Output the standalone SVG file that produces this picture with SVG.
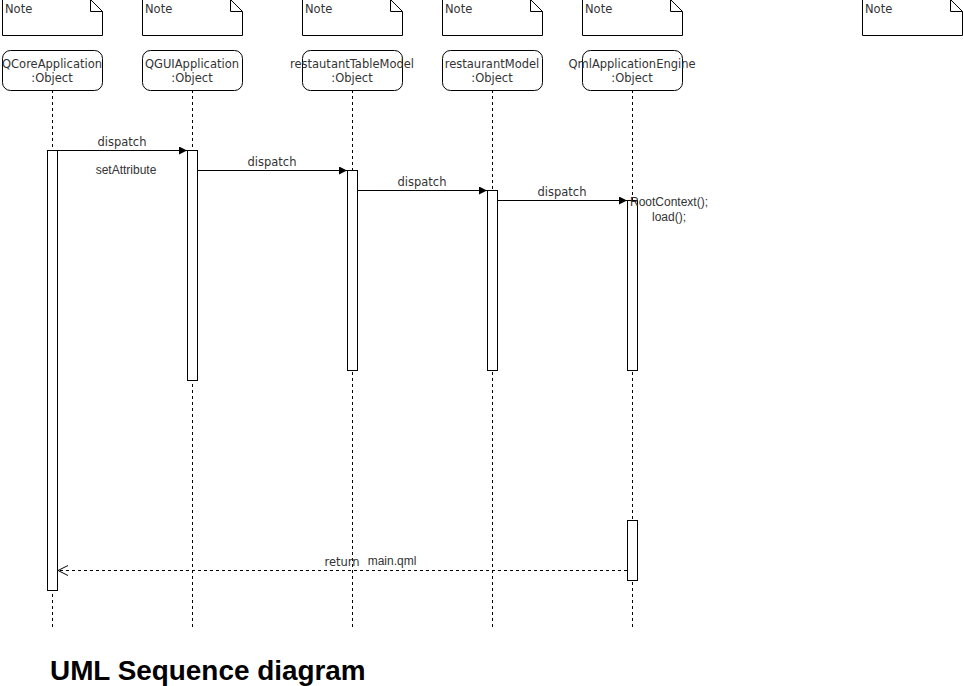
<svg xmlns="http://www.w3.org/2000/svg" width="963" height="686" viewBox="0 0 963 686">
  <style>
    .note { fill: #ffffff; stroke: #000000; stroke-width: 1; }
    .fold { fill: none; stroke: #000000; stroke-width: 1; }
    .lbl { font-family: "DejaVu Sans", sans-serif; font-size: 11.5px; fill: #333333; }
    .obj { fill: #ffffff; stroke: #000000; stroke-width: 1; }
    .life { stroke: #000000; stroke-width: 1; stroke-dasharray: 3 3; fill: none; }
    .act { fill: #ffffff; stroke: #000000; stroke-width: 1; }
    .msg { stroke: #000000; stroke-width: 1; fill: none; }
    .ret { stroke: #000000; stroke-width: 1; fill: none; stroke-dasharray: 3 3; }
    .small { font-family: "Liberation Sans", Arial, sans-serif; font-size: 12px; fill: #333333; }
    .title { font-family: "Liberation Sans", Arial, sans-serif; font-size: 27.9px; font-weight: bold; fill: #000000; }
  </style>
  <defs>
    <marker id="arrowFilled" markerWidth="10" markerHeight="10" refX="8" refY="4" orient="auto" markerUnits="userSpaceOnUse">
      <path d="M0,0 L8,4 L0,8 Z" fill="#000000"/>
    </marker>
    <marker id="arrowOpen" markerWidth="12" markerHeight="12" refX="10" refY="5" orient="auto" markerUnits="userSpaceOnUse">
      <path d="M0,0 L10,5 L0,10" fill="none" stroke="#000000" stroke-width="1"/>
    </marker>
  </defs>

  <!-- notes -->
  <g id="note1"><path class="note" d="M2.5,-0.5 H90.5 L102.5,11.5 V35.5 H2.5 Z"/><path class="fold" d="M90.5,-0.5 V11.5 H102.5"/><text class="lbl" x="5" y="13">Note</text></g>
  <g id="note2"><path class="note" d="M142.5,-0.5 H230.5 L242.5,11.5 V35.5 H142.5 Z"/><path class="fold" d="M230.5,-0.5 V11.5 H242.5"/><text class="lbl" x="145" y="13">Note</text></g>
  <g id="note3"><path class="note" d="M302.5,-0.5 H390.5 L402.5,11.5 V35.5 H302.5 Z"/><path class="fold" d="M390.5,-0.5 V11.5 H402.5"/><text class="lbl" x="305" y="13">Note</text></g>
  <g id="note4"><path class="note" d="M442.5,-0.5 H530.5 L542.5,11.5 V35.5 H442.5 Z"/><path class="fold" d="M530.5,-0.5 V11.5 H542.5"/><text class="lbl" x="445" y="13">Note</text></g>
  <g id="note5"><path class="note" d="M582.5,-0.5 H670.5 L682.5,11.5 V35.5 H582.5 Z"/><path class="fold" d="M670.5,-0.5 V11.5 H682.5"/><text class="lbl" x="585" y="13">Note</text></g>
  <g id="note6"><path class="note" d="M862.5,-0.5 H950.5 L962.5,11.5 V35.5 H862.5 Z"/><path class="fold" d="M950.5,-0.5 V11.5 H962.5"/><text class="lbl" x="865" y="13">Note</text></g>

  <!-- lifelines -->
  <g id="qcoreapplication">
    <path class="life" d="M52.5,90 V628"/>
    <rect class="obj" x="2.5" y="50.5" width="100" height="40" rx="8"/>
    <text class="lbl" text-anchor="middle" x="52" y="68">QCoreApplication</text>
    <text class="lbl" text-anchor="middle" x="52" y="82">:Object</text>
    <rect class="act" x="47.5" y="150.5" width="10" height="440"/>
  </g>
  <g id="qguiapplication">
    <path class="life" d="M192.5,90 V628"/>
    <rect class="obj" x="142.5" y="50.5" width="100" height="40" rx="8"/>
    <text class="lbl" text-anchor="middle" x="192" y="68">QGUIApplication</text>
    <text class="lbl" text-anchor="middle" x="192" y="82">:Object</text>
    <rect class="act" x="187.5" y="150.5" width="10" height="230"/>
  </g>
  <g id="restautanttablemodel">
    <path class="life" d="M352.5,90 V628"/>
    <rect class="obj" x="302.5" y="50.5" width="100" height="40" rx="8"/>
    <text class="lbl" text-anchor="middle" x="352" y="68">restautantTableModel</text>
    <text class="lbl" text-anchor="middle" x="352" y="82">:Object</text>
    <rect class="act" x="347.5" y="170.5" width="10" height="200"/>
  </g>
  <g id="restaurantmodel">
    <path class="life" d="M492.5,90 V628"/>
    <rect class="obj" x="442.5" y="50.5" width="100" height="40" rx="8"/>
    <text class="lbl" text-anchor="middle" x="492" y="68">restaurantModel</text>
    <text class="lbl" text-anchor="middle" x="492" y="82">:Object</text>
    <rect class="act" x="487.5" y="190.5" width="10" height="180"/>
  </g>
  <g id="qmlapplicationengine">
    <path class="life" d="M632.5,90 V628"/>
    <rect class="obj" x="582.5" y="50.5" width="100" height="40" rx="8"/>
    <text class="lbl" text-anchor="middle" x="632" y="68">QmlApplicationEngine</text>
    <text class="lbl" text-anchor="middle" x="632" y="82">:Object</text>
    <rect class="act" x="627.5" y="200.5" width="10" height="170"/>
    <rect class="act" x="627.5" y="520.5" width="10" height="60"/>
  </g>

  <!-- messages -->
  <g id="connectors">
    <path class="msg" d="M57.5,150.5 H187" marker-end="url(#arrowFilled)"/>
    <path class="msg" d="M197.5,170.5 H347" marker-end="url(#arrowFilled)"/>
    <path class="msg" d="M357.5,190.5 H487" marker-end="url(#arrowFilled)"/>
    <path class="msg" d="M497.5,200.5 H627" marker-end="url(#arrowFilled)"/>
    <path class="ret" d="M627,570.5 H58" marker-end="url(#arrowOpen)"/>
    <text class="lbl" text-anchor="middle" x="122" y="146">dispatch</text>
    <text class="lbl" text-anchor="middle" x="272" y="166">dispatch</text>
    <text class="lbl" text-anchor="middle" x="422" y="186">dispatch</text>
    <text class="lbl" text-anchor="middle" x="562" y="196">dispatch</text>
    <text class="lbl" text-anchor="middle" x="342" y="566">return</text>
  </g>

  <!-- free text -->
  <text class="small" text-anchor="middle" x="126" y="174">setAttribute</text>
  <text class="small" text-anchor="middle" x="669" y="206">RootContext();</text>
  <text class="small" text-anchor="middle" x="669" y="221">load();</text>
  <text class="small" text-anchor="middle" x="392" y="565">main.qml</text>
  <text class="title" x="50" y="680">UML Sequence diagram</text>
</svg>
